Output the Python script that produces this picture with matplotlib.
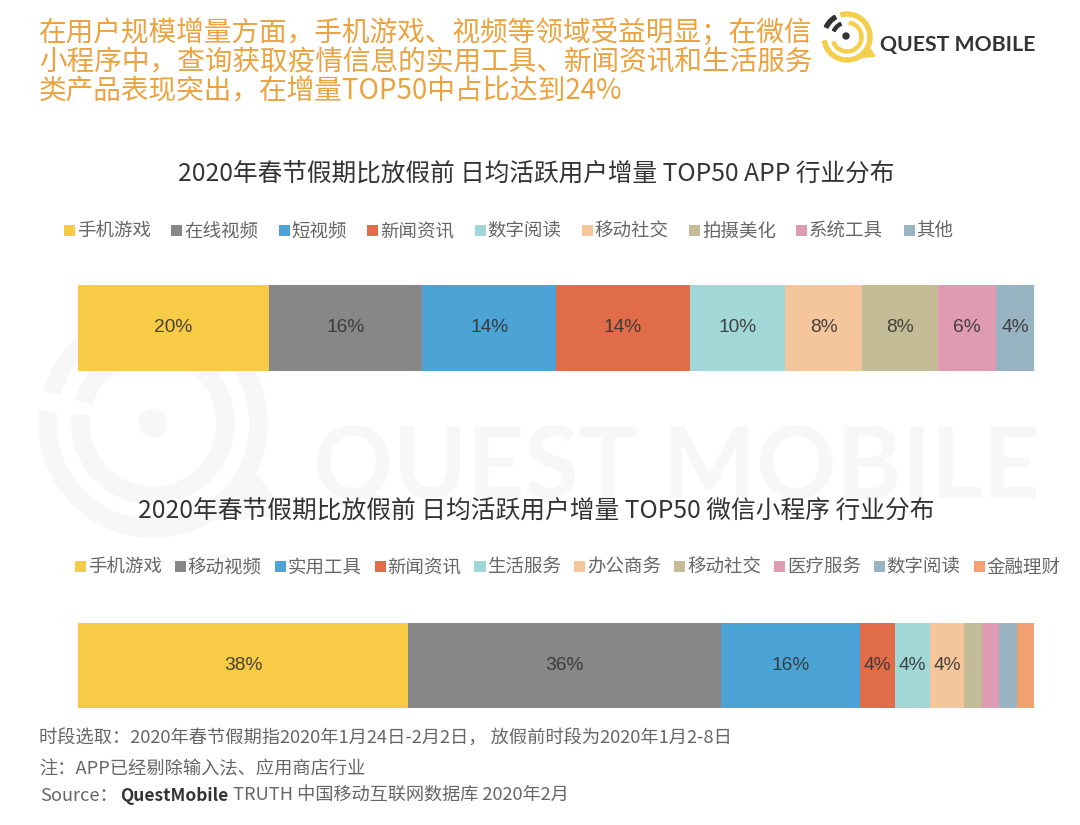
import matplotlib
matplotlib.use("Agg")
import matplotlib.pyplot as plt
from matplotlib.patches import Wedge, Circle, Polygon

plt.rcParams['font.family'] = ['Noto Sans CJK SC', 'DejaVu Sans']

# top chart
app_categories = ['手机游戏', '在线视频', '短视频', '新闻资讯', '数字阅读', '移动社交', '拍摄美化', '系统工具', '其他']
app_values = [20, 16, 14, 14, 10, 8, 8, 6, 4]
app_colors = ['#F7CB45', '#878787', '#4BA3D6', '#E06C4A', '#A2D7D8', '#F5C69B', '#C4BC96', '#DF9BB2', '#98B4C2']

# bottom chart (the shares add up to 110 in the source)
mini_categories = ['手机游戏', '移动视频', '实用工具', '新闻资讯', '生活服务', '办公商务', '移动社交', '医疗服务', '数字阅读', '金融理财']
mini_values = [38, 36, 16, 4, 4, 4, 2, 2, 2, 2]
mini_colors = ['#F7CB45', '#878787', '#4BA3D6', '#E06C4A', '#A2D7D8', '#F5C69B', '#C4BC96', '#DF9BB2', '#98B4C2', '#F2A173']

headline = ['在用户规模增量方面，手机游戏、视频等领域受益明显；在微信',
            '小程序中，查询获取疫情信息的实用工具、新闻资讯和生活服务',
            '类产品表现突出，在增量TOP50中占比达到24%']
app_title = '2020年春节假期比放假前 日均活跃用户增量 TOP50 APP 行业分布'
mini_title = '2020年春节假期比放假前 日均活跃用户增量 TOP50 微信小程序 行业分布'
note_period = '时段选取：2020年春节假期指2020年1月24日-2月2日， 放假前时段为2020年1月2-8日'
note_app = '注：APP已经剔除输入法、应用商店行业'

W, H = 1080, 825
fig = plt.figure(figsize=(W / 100, H / 100), dpi=100, facecolor='white')

# page layer in pixel coordinates, for watermark, logo and text
page = fig.add_axes([0, 0, 1, 1], zorder=0)
page.set_xlim(0, W)
page.set_ylim(H, 0)
page.axis('off')

# watermark (y axis is flipped, so angles run clockwise on screen)
wm = '#F7F7F7'
page.add_patch(Wedge((153, 423), 114, 197, 186 + 360 - 60, width=17, color=wm))
page.add_patch(Wedge((153, 423), 114, 60, 186, width=17, color=wm))
page.add_patch(Wedge((153, 423), 81, 197, 186 + 360, width=17, color=wm))
page.add_patch(Circle((153, 423), 14, color=wm))
page.add_patch(Polygon([[243, 478], [250, 465], [285, 515], [215, 520]], color=wm))
page.text(676, 498, 'QUEST MOBILE', family='Lato', weight='bold', fontsize=71.5, color=wm, ha='center', va='baseline')

# logo
yellow = '#F4CF4B'
dark = '#333333'
page.add_patch(Wedge((847, 37), 25, 255, 530, width=4, color=yellow))
page.add_patch(Wedge((847, 37), 16, 280, 520, width=3, color=yellow))
page.add_patch(Polygon([[858, 58], [868, 46], [875, 56]], color=yellow))
page.add_patch(Wedge((847, 37), 25, 205, 240, width=4, color=dark))
page.add_patch(Wedge((847, 37), 16, 205, 245, width=3, color=dark))
page.add_patch(Circle((846, 36), 3, color=dark))
page.text(880, 45, 'QUEST MOBILE', family='Lato', weight='bold', fontsize=15.3, color=dark, va='center')

for line, y in zip(headline, [33, 62, 91]):
    page.text(39, y, line, fontsize=19.9, color='#EBA33F', va='center')

page.text(536, 174, app_title, fontsize=17.75, color='#333333', ha='center', va='center')
page.text(536, 511, mini_title, fontsize=17.8, color='#333333', ha='center', va='center')

page.text(39, 739, note_period, fontsize=13.15, color='#666666', va='center')
page.text(39, 769, note_app, fontsize=13.15, color='#666666', va='center')
page.text(40, 796, 'Source：', fontsize=13.15, color='#666666', va='center')
page.text(120, 796, 'QuestMobile', fontsize=12.5, weight='bold', color='#333333', va='center')
page.text(233, 796, 'TRUTH 中国移动互联网数据库 2020年2月', fontsize=13.1, color='#666666', va='center')


def stacked(values, colors, categories, top, bottom, legend_y, legend_x, columnspacing):
    ax = fig.add_axes([78 / W, 1 - bottom / H, 956 / W, (bottom - top) / H], zorder=1)
    ax.patch.set_alpha(0)
    left = 0
    handles = []
    for val, col, cat in zip(values, colors, categories):
        bars = ax.barh(0, val, left=left, height=1, color=col, label=cat)
        ax.bar_label(bars, labels=[f'{val}%' if val > 2 else ''], label_type='center',
                     family='Liberation Sans', fontsize=13.8, color='#333333', alpha=0.9)
        handles.append(bars)
        left += val
    ax.set_xlim(0, left)
    ax.set_ylim(-0.5, 0.5)
    ax.axis('off')
    fig.legend(handles=handles, loc='center left', bbox_to_anchor=(legend_x / W, 1 - legend_y / H),
               ncol=len(values), frameon=False, fontsize=13.3, labelcolor='#666666',
               handlelength=0.6, handleheight=0.6, handletextpad=0.1,
               columnspacing=columnspacing, borderpad=0, borderaxespad=0)


stacked(app_values, app_colors, app_categories, 285, 371, 232, 64, 1.1)
stacked(mini_values, mini_colors, mini_categories, 623, 708, 568, 75, 0.7)

fig.savefig('out.png', dpi=100)
